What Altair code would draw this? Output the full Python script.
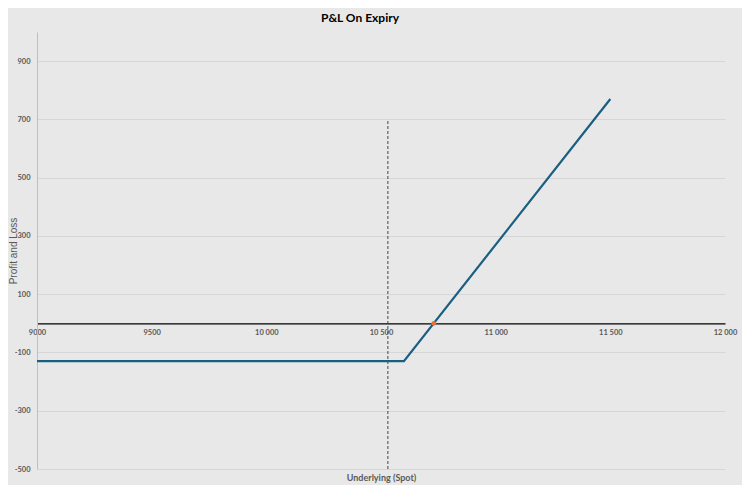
import altair as alt
import pandas as pd

# P&L line vertices (long call: strike 10600, premium ~130)
spot_x = [9000, 10600, 11500]
pnl_y = [-130, -130, 770]

# breakeven point
be_x = [10730]
be_y = [0]

# current spot marker (dashed vertical)
spot_level = [10530]
spot_lo = [-500]
spot_hi = [700]

x_ticks = [9000, 9500, 10000, 10500, 11000, 11500, 12000]
y_ticks = [-500, -300, -100, 100, 300, 500, 700, 900]

W, H = 688, 437
Y_MIN, Y_MAX = -500, 1000
zero_px = (Y_MAX - 0) / (Y_MAX - Y_MIN) * H

line_df = pd.DataFrame({"spot": spot_x, "pnl": pnl_y})
be_df = pd.DataFrame({"spot": be_x, "pnl": be_y})
vline_df = pd.DataFrame({"spot": spot_level, "lo": spot_lo, "hi": spot_hi})

FONT = "Lato"
GRAY = "#595959"

xscale = alt.Scale(domain=[9000, 12000], nice=False, zero=False)
yscale = alt.Scale(domain=[Y_MIN, Y_MAX], nice=False, zero=False)

x_axis = alt.Axis(
    values=x_ticks,
    offset=-(H - zero_px),
    grid=False,
    ticks=False,
    domainColor="#000000",
    domainWidth=1.3,
    labelFontSize=7.5,
    labelFontWeight="bold",
    labelColor=GRAY,
    labelFont=FONT,
    labelPadding=5,
    labelFlush=False,
    labelExpr="datum.value >= 10000 ? replace(format(datum.value, ','), ',', ' ') : format(datum.value, 'd')",
    title="Underlying (Spot)",
    titleFont=FONT,
    titleFontSize=9,
    titleFontWeight="bold",
    titleColor=GRAY,
    titleY=(H - zero_px) + 8,
    titleBaseline="middle",
)

y_axis = alt.Axis(
    values=y_ticks,
    grid=True,
    gridColor="#d6d6d6",
    gridWidth=1,
    ticks=False,
    domainColor="#bfbfbf",
    labelFontSize=7.5,
    labelFontWeight="bold",
    labelColor=GRAY,
    labelFont=FONT,
    labelPadding=7,
    labelExpr="datum.value < 0 ? '-' + format(-datum.value, 'd') : format(datum.value, 'd')",
    title="Profit and Loss",
    titleFont="Liberation Sans",
    titleFontSize=10,
    titleFontWeight="normal",
    titleColor=GRAY,
    titleX=-24,
    titleBaseline="middle",
)

line = alt.Chart(line_df).mark_line(color="#1b5f80", strokeWidth=2.2).encode(
    x=alt.X("spot:Q", scale=xscale, axis=x_axis),
    y=alt.Y("pnl:Q", scale=yscale, axis=y_axis),
)

vline = alt.Chart(vline_df).mark_rule(color="#333333", strokeWidth=0.9, strokeDash=[3, 2]).encode(
    x=alt.X("spot:Q", scale=xscale),
    y=alt.Y("lo:Q", scale=yscale),
    y2="hi:Q",
)

dot = alt.Chart(be_df).mark_circle(color="#e97132", size=22, opacity=1).encode(
    x=alt.X("spot:Q", scale=xscale),
    y=alt.Y("pnl:Q", scale=yscale),
)

chart = (
    alt.layer(vline, line, dot)
    .properties(
        width=W,
        height=H,
        title=alt.TitleParams(
            "P&L On Expiry",
            font=FONT,
            fontSize=12,
            fontWeight="bold",
            color="#000000",
            anchor="middle",
            dx=-21,
            offset=7,
        ),
        autosize=alt.AutoSizeParams(type="none"),
        padding={"left": 29, "top": 24, "right": 17, "bottom": 16},
        background="#e8e8e8",
    )
    .configure_view(stroke=None, fill="#e8e8e8")
)

chart.save("out.html", embed_options={"renderer": "svg", "actions": False})
